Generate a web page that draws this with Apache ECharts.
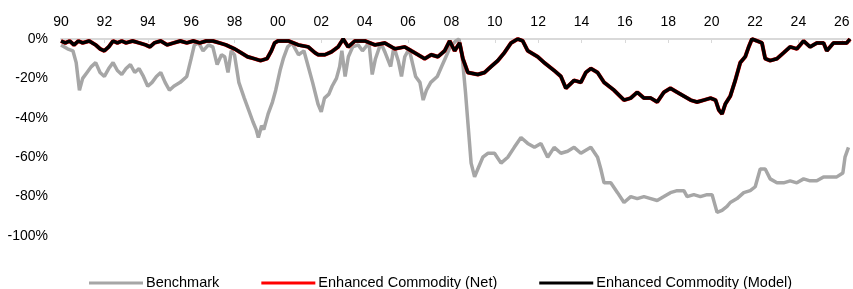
<!DOCTYPE html>
<html>
<head>
<meta charset="utf-8">
<script src="https://cdn.jsdelivr.net/npm/echarts@6/dist/echarts.min.js"></script>
<style>html,body{margin:0;padding:0;background:#fff}#c{width:853px;height:289px}</style>
</head>
<body>
<div id="c"></div>
<script>
const xTicks = ['90','92','94','96','98','00','02','04','06','08','10','12','14','16','18','20','22','24','26'];
const yTicks = ['0%','-20%','-40%','-60%','-80%','-100%'];
const seriesNames = ['Benchmark','Enhanced Commodity (Net)','Enhanced Commodity (Model)'];

const benchDates = [1990.0,1990.3,1990.55,1990.7,1990.85,1991.0,1991.2,1991.4,1991.6,1991.8,1992.0,1992.2,1992.4,1992.6,1992.8,1993.0,1993.2,1993.4,1993.6,1993.8,1994.0,1994.2,1994.4,1994.6,1994.8,1995.0,1995.2,1995.5,1995.8,1996.0,1996.15,1996.35,1996.55,1996.8,1997.0,1997.2,1997.4,1997.55,1997.7,1997.85,1998.0,1998.2,1998.45,1998.65,1998.85,1999.0,1999.1,1999.25,1999.35,1999.55,1999.75,1999.9,2000.1,2000.25,2000.45,2000.65,2000.95,2001.2,2001.4,2001.6,2001.85,2002.0,2002.15,2002.35,2002.5,2002.7,2002.85,2002.95,2003.1,2003.25,2003.45,2003.7,2003.9,2004.2,2004.35,2004.5,2004.75,2004.95,2005.2,2005.35,2005.55,2005.7,2005.85,2006.05,2006.35,2006.55,2006.7,2006.85,2007.05,2007.35,2007.55,2007.75,2007.95,2008.2,2008.35,2008.5,2008.65,2008.78,2008.91,2009.07,2009.22,2009.45,2009.68,2009.99,2010.29,2010.6,2010.9,2011.21,2011.52,2011.83,2012.13,2012.44,2012.74,2013.05,2013.36,2013.66,2013.97,2014.43,2014.74,2014.89,2015.04,2015.35,2015.66,2015.96,2016.27,2016.57,2016.88,2017.19,2017.49,2017.8,2018.1,2018.41,2018.72,2018.87,2019.18,2019.48,2019.79,2020.02,2020.25,2020.48,2020.71,2020.86,2021.17,2021.48,2021.78,2022.01,2022.24,2022.47,2022.7,2023.01,2023.32,2023.62,2023.93,2024.24,2024.54,2024.85,2025.16,2025.46,2025.77,2026.05,2026.15,2026.31];
const benchValues = [-3,-5,-6,-12,-26,-20,-17,-14,-12,-17,-19,-15,-12,-16,-18,-15,-13,-17,-15,-19,-24,-22,-19,-17,-22,-26,-24,-22,-19,-10,-3,-2,-6,-3,-4,-13,-8,-9,-17,-6,-8,-22,-30,-36,-42,-46,-50,-44,-46,-38,-32,-26,-16,-10,-4,-2,-8,-6,-14,-22,-33,-37,-30,-28,-24,-20,-14,-6,-19,-9,-4,-3,-6,-2,-18,-10,-2,-7,-14,-4,-11,-19,-9,-5,-19,-22,-31,-26,-22,-19,-14,-9,-4,-1,0,-9,-27,-45,-63,-70,-66,-60,-58,-58,-63,-60,-55,-50,-53,-55,-53,-60,-55,-58,-57,-55,-58,-55,-60,-66,-73,-73,-78,-83,-80,-81,-80,-81,-82,-80,-78,-77,-77,-80,-79,-80,-79,-79,-88,-87,-85,-83,-81,-78,-77,-75,-66,-66,-71,-73,-73,-72,-73,-71,-72,-72,-70,-70,-70,-68,-60,-55];

const modelDates = [1990.0,1990.2,1990.4,1990.6,1990.8,1991.0,1991.3,1991.6,1991.8,1992.0,1992.2,1992.4,1992.6,1992.8,1993.0,1993.3,1993.6,1993.9,1994.1,1994.3,1994.6,1994.9,1995.2,1995.5,1995.8,1996.1,1996.4,1996.7,1997.0,1997.3,1997.6,1998.0,1998.3,1998.6,1998.9,1999.2,1999.5,1999.7,1999.85,2000.0,2000.48,2000.94,2001.4,2001.71,2001.86,2002.17,2002.47,2002.78,2003.01,2003.24,2003.55,2004.01,2004.47,2004.93,2005.39,2005.85,2006.15,2006.46,2006.77,2007.07,2007.38,2007.69,2007.92,2008.15,2008.38,2008.53,2008.76,2009.22,2009.53,2009.83,2010.14,2010.44,2010.75,2011.06,2011.29,2011.52,2011.98,2012.28,2012.74,2013.05,2013.28,2013.66,2013.97,2014.2,2014.43,2014.74,2015.04,2015.5,2015.96,2016.27,2016.57,2016.88,2017.19,2017.49,2017.8,2018.1,2018.41,2018.72,2019.03,2019.33,2019.64,2019.95,2020.18,2020.33,2020.48,2020.63,2020.86,2021.09,2021.32,2021.55,2021.71,2021.86,2022.09,2022.32,2022.47,2022.7,2023.01,2023.32,2023.62,2023.93,2024.24,2024.54,2024.85,2025.16,2025.31,2025.62,2025.93,2026.23,2026.38];
const modelValues = [-1,-2,-1,-3,-1,-2,-1,-3,-5,-6,-4,-1,-2,-1,-2,-1,-2,-3,-4,-2,-1,-3,-2,-1,-2,-1,-2,-1,-1,-2,-3,-5,-7,-9,-10,-11,-10,-6,-2,-1,-1,-3,-4,-7,-8,-8,-6.5,-4,0,-4,-1,-1,-3,-2,-5,-4,-6,-8,-10,-8,-9,-6,-1,-6,-2,-10,-17,-18,-17,-14,-11,-7,-2,0,-1,-6,-9,-12,-16,-19,-25,-21,-22,-17,-15,-17,-22,-26,-31,-30,-27,-30,-30,-32,-27,-25,-27,-29,-31,-32,-31,-30,-31,-36,-38,-33,-29,-21,-12,-9,-4,0,-1,-2,-10,-11,-10,-7,-4,-5,-1,-4,-2,-2,-6,-2,-2,-2,0];
const netValues = [-1,-2,-1,-3,-1,-2,-1,-3,-5,-6,-4,-1,-2,-1,-2,-1,-2,-3,-4,-2,-1,-3,-2,-1,-2,-1,-2,-1,-1,-2,-3,-5,-7,-9,-10,-11,-10,-6,-2,-1,-1,-3,-4,-7,-8,-8,-6.5,-4,0,-4,-1,-1,-3,-2,-5,-4,-6,-8,-10,-8,-9,-6,-1,-6,-2,-10,-17,-18,-17,-14,-11,-7,-2,0,-1,-6,-9,-12,-16,-19,-25,-21,-22,-17,-15,-17,-22,-26,-31,-30,-27,-30,-30,-32,-27,-25,-27,-29,-31,-32,-31,-30,-31,-36,-38,-33,-29,-21,-12,-9,-4,0,-1,-2,-10,-11,-10,-7,-4,-5,-1,-4,-2,-2,-6,-2,-2,-2,0];

function pairs(d, v) { return d.map((x, i) => [x, v[i]]); }

const chart = echarts.init(document.getElementById('c'), null, {renderer: 'canvas'});
const font = 'Liberation Sans, Arial, sans-serif';
chart.setOption({
  animation: false,
  backgroundColor: '#ffffff',
  grid: {left: 61, right: 0, top: 39, bottom: 53, containLabel: false},
  xAxis: {
    type: 'value', position: 'top', min: 1990, max: 2026.38, interval: 2,
    axisLine: {show: true, onZero: false, lineStyle: {color: '#d9d9d9', width: 2}},
    axisTick: {show: true, inside: true, length: 4, lineStyle: {color: '#d9d9d9', width: 1}},
    splitLine: {show: false},
    axisLabel: {
      color: '#000', fontSize: 14, fontFamily: font, margin: 10,
      formatter: function (v) {
        const i = Math.round((v - 1990) / 2);
        return (Math.abs(v - (1990 + 2 * i)) < 1e-6 && xTicks[i] !== undefined) ? xTicks[i] : '';
      }
    }
  },
  yAxis: {
    type: 'value', min: -100, max: 0, interval: 20,
    axisLine: {show: false}, axisTick: {show: false}, splitLine: {show: false},
    axisLabel: {
      color: '#000', fontSize: 14, fontFamily: font, margin: 13,
      formatter: function (v) { return yTicks[Math.round(-v / 20)]; }
    }
  },
  legend: {
    left: 84, top: 270, itemWidth: 54, itemHeight: 3, itemGap: 42,
    icon: 'rect',
    textStyle: {color: '#000', fontSize: 14.5, lineHeight: 16, fontFamily: font, padding: [0, 0, 0, -2]},
    data: seriesNames
  },
  series: [
    {name: seriesNames[0], type: 'line', data: pairs(benchDates, benchValues), showSymbol: false, symbol: 'none',
     lineStyle: {color: '#a6a6a6', width: 3.5}, itemStyle: {color: '#a6a6a6'}},
    {name: seriesNames[1], type: 'line', data: pairs(modelDates, netValues), showSymbol: false, symbol: 'none',
     lineStyle: {color: '#ff0000', width: 4}, itemStyle: {color: '#ff0000'}},
    {name: seriesNames[2], type: 'line', data: pairs(modelDates, modelValues), showSymbol: false, symbol: 'none',
     lineStyle: {color: '#000000', width: 3.5}, itemStyle: {color: '#000000'}}
  ]
});
</script>
</body>
</html>
